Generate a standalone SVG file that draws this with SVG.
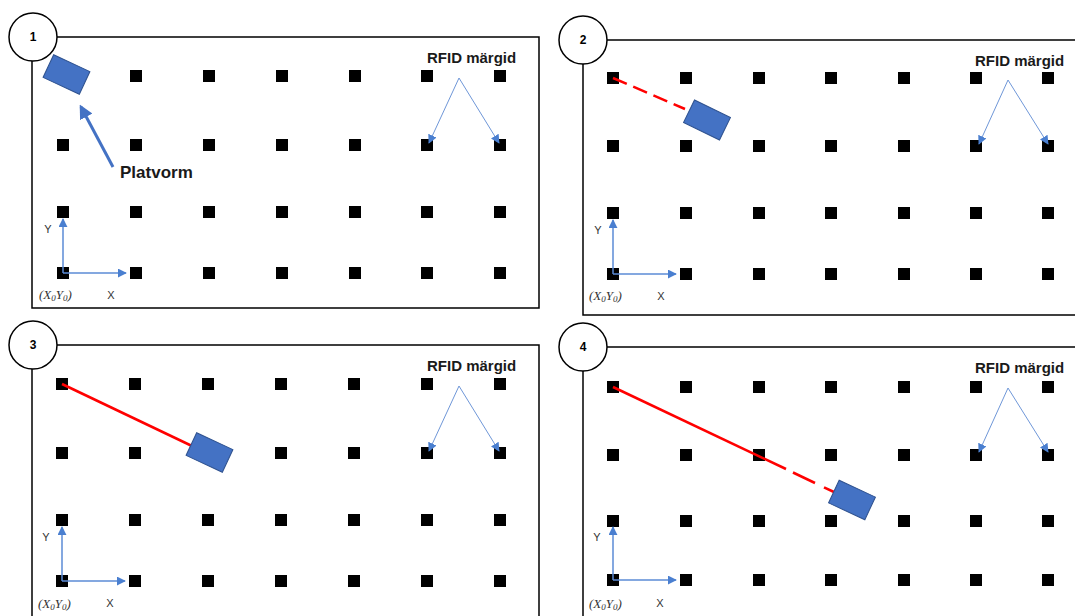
<svg xmlns="http://www.w3.org/2000/svg" width="1075" height="616" viewBox="0 0 1075 616">
<defs>
<style>
.frame{fill:none;stroke:#000;stroke-width:1.5}
.badge{fill:#fff;stroke:#000;stroke-width:1.5}
.num{font-family:"Liberation Sans",Arial,sans-serif;font-weight:bold;font-size:12px;fill:#000;text-anchor:middle}
.lbl{font-family:"Liberation Sans",Arial,sans-serif;font-weight:bold;font-size:15px;fill:#1a1a1a}
.ax{font-family:"Liberation Sans",Arial,sans-serif;font-size:11px;fill:#333;text-anchor:middle}
.org{font-family:"Liberation Serif","Times New Roman",serif;font-style:italic;font-size:13px;fill:#333}
.dot{fill:#000}
.plat{fill:#4472C4;stroke:#2F528F;stroke-width:1}
.axis{stroke:#5B8BD6;stroke-width:1.5;fill:none}
.rf{stroke:#6F97D8;stroke-width:1;fill:none}
.pl{stroke:#4472C4;stroke-width:3;fill:none}
.red{stroke:#FF0000;stroke-width:2.5;fill:none}
.dash{stroke-dasharray:15 7}
</style>
<marker id="ah" viewBox="0 0 10 10" refX="9" refY="5" markerWidth="9" markerHeight="9" markerUnits="userSpaceOnUse" orient="auto"><path d="M0,0 L10,5 L0,10 z" fill="#4A7FD0"/></marker>
<marker id="ahs" viewBox="0 0 10 10" refX="9" refY="5" markerWidth="9" markerHeight="9" markerUnits="userSpaceOnUse" orient="auto"><path d="M0,0 L10,5 L0,10 z" fill="#4A7FD0"/></marker>
<marker id="ahp" viewBox="0 0 10 10" refX="8" refY="5" markerWidth="14" markerHeight="14" markerUnits="userSpaceOnUse" orient="auto"><path d="M0,0 L10,5 L0,10 z" fill="#4472C4"/></marker>
<rect id="sq" x="-6" y="-6" width="12" height="12"/>
<rect id="pf" x="-20" y="-12.5" width="40" height="25"/>
</defs>
<rect width="1075" height="616" fill="#fff"/>

<!-- Panel 1 -->
<g id="panel1">
<path class="frame" d="M57,37 H539 V308 H32 V61"/>
<g id="dots1" class="dot">
<use href="#sq" x="63" y="76"/><use href="#sq" x="136" y="76"/><use href="#sq" x="209" y="76"/><use href="#sq" x="282" y="76"/><use href="#sq" x="355" y="76"/><use href="#sq" x="427" y="76"/><use href="#sq" x="500" y="76"/>
<use href="#sq" x="63" y="145"/><use href="#sq" x="136" y="145"/><use href="#sq" x="209" y="145"/><use href="#sq" x="282" y="145"/><use href="#sq" x="355" y="145"/><use href="#sq" x="427" y="145"/><use href="#sq" x="500" y="145"/>
<use href="#sq" x="63" y="212"/><use href="#sq" x="136" y="212"/><use href="#sq" x="209" y="212"/><use href="#sq" x="282" y="212"/><use href="#sq" x="355" y="212"/><use href="#sq" x="427" y="212"/><use href="#sq" x="500" y="212"/>
<use href="#sq" x="63" y="273"/><use href="#sq" x="136" y="273"/><use href="#sq" x="209" y="273"/><use href="#sq" x="282" y="273"/><use href="#sq" x="355" y="273"/><use href="#sq" x="427" y="273"/><use href="#sq" x="500" y="273"/>
</g>
<g id="badge1"><circle class="badge" cx="33" cy="37" r="24"/><text class="num" x="33" y="41">1</text></g>
<g id="platform1"><use href="#pf" class="plat" transform="translate(66.5,74.5) rotate(25)"/></g>
<g id="label-platvorm"><text class="lbl" x="120" y="178" style="font-size:17px">Platvorm</text></g>
<g id="label-rfid1"><text class="lbl" x="427" y="63">RFID märgid</text></g>
<g id="axes1">
<text class="ax" x="48" y="233">Y</text><text class="ax" x="111" y="299">X</text>
<text class="org" x="39" y="299">(<tspan>X</tspan><tspan font-size="9" dy="2">0</tspan><tspan dy="-2">Y</tspan><tspan font-size="9" dy="2">0</tspan><tspan dy="-2">)</tspan></text>
</g>
</g>

<!-- Panel 2 -->
<g id="panel2">
<path class="frame" d="M607,40 H1076 M1076,315 H583 V64"/>
<g id="dots2" class="dot">
<use href="#sq" x="613" y="78"/><use href="#sq" x="686" y="78"/><use href="#sq" x="759" y="78"/><use href="#sq" x="831" y="78"/><use href="#sq" x="904" y="78"/><use href="#sq" x="976" y="78"/><use href="#sq" x="1048" y="78"/>
<use href="#sq" x="613" y="146"/><use href="#sq" x="686" y="146"/><use href="#sq" x="759" y="146"/><use href="#sq" x="831" y="146"/><use href="#sq" x="904" y="146"/><use href="#sq" x="976" y="146"/><use href="#sq" x="1048" y="146"/>
<use href="#sq" x="613" y="213"/><use href="#sq" x="686" y="213"/><use href="#sq" x="759" y="213"/><use href="#sq" x="831" y="213"/><use href="#sq" x="904" y="213"/><use href="#sq" x="976" y="213"/><use href="#sq" x="1048" y="213"/>
<use href="#sq" x="613" y="274"/><use href="#sq" x="686" y="274"/><use href="#sq" x="759" y="274"/><use href="#sq" x="831" y="274"/><use href="#sq" x="904" y="274"/><use href="#sq" x="976" y="274"/><use href="#sq" x="1048" y="274"/>
</g>
<g id="badge2"><circle class="badge" cx="583" cy="40" r="24"/><text class="num" x="583" y="44">2</text></g>
<g id="platform2"><use href="#pf" class="plat" transform="translate(707,120) rotate(26)"/></g>
<g id="label-rfid2"><text class="lbl" x="975" y="66">RFID märgid</text></g>
<g id="axes2">
<text class="ax" x="598" y="234">Y</text><text class="ax" x="661" y="300">X</text>
<text class="org" x="589" y="300">(<tspan>X</tspan><tspan font-size="9" dy="2">0</tspan><tspan dy="-2">Y</tspan><tspan font-size="9" dy="2">0</tspan><tspan dy="-2">)</tspan></text>
</g>
</g>

<!-- Panel 3 -->
<g id="panel3">
<path class="frame" d="M57,345 H539 V617 M32,617 V369"/>
<g id="dots3" class="dot">
<use href="#sq" x="62" y="384"/><use href="#sq" x="135" y="384"/><use href="#sq" x="208" y="384"/><use href="#sq" x="281" y="384"/><use href="#sq" x="354" y="384"/><use href="#sq" x="427" y="384"/><use href="#sq" x="500" y="384"/>
<use href="#sq" x="62" y="453"/><use href="#sq" x="135" y="453"/><use href="#sq" x="208" y="453"/><use href="#sq" x="281" y="453"/><use href="#sq" x="354" y="453"/><use href="#sq" x="427" y="453"/><use href="#sq" x="500" y="453"/>
<use href="#sq" x="62" y="520"/><use href="#sq" x="135" y="520"/><use href="#sq" x="208" y="520"/><use href="#sq" x="281" y="520"/><use href="#sq" x="354" y="520"/><use href="#sq" x="427" y="520"/><use href="#sq" x="500" y="520"/>
<use href="#sq" x="62" y="581"/><use href="#sq" x="135" y="581"/><use href="#sq" x="208" y="581"/><use href="#sq" x="281" y="581"/><use href="#sq" x="354" y="581"/><use href="#sq" x="427" y="581"/><use href="#sq" x="500" y="581"/>
</g>
<g id="badge3"><circle class="badge" cx="33" cy="345" r="24"/><text class="num" x="33" y="349">3</text></g>
<g id="label-rfid3"><text class="lbl" x="427" y="371">RFID märgid</text></g>
<g id="axes3">
<text class="ax" x="46" y="541">Y</text><text class="ax" x="110" y="607">X</text>
<text class="org" x="38" y="608">(<tspan>X</tspan><tspan font-size="9" dy="2">0</tspan><tspan dy="-2">Y</tspan><tspan font-size="9" dy="2">0</tspan><tspan dy="-2">)</tspan></text>
</g>
</g>

<!-- Panel 4 -->
<g id="panel4">
<path class="frame" d="M607,347 H1076 M583,617 V371"/>
<g id="dots4" class="dot">
<use href="#sq" x="613" y="387"/><use href="#sq" x="686" y="387"/><use href="#sq" x="759" y="387"/><use href="#sq" x="831" y="387"/><use href="#sq" x="904" y="387"/><use href="#sq" x="976" y="387"/><use href="#sq" x="1048" y="387"/>
<use href="#sq" x="613" y="455"/><use href="#sq" x="686" y="455"/><use href="#sq" x="759" y="455"/><use href="#sq" x="831" y="455"/><use href="#sq" x="904" y="455"/><use href="#sq" x="976" y="455"/><use href="#sq" x="1048" y="455"/>
<use href="#sq" x="613" y="521"/><use href="#sq" x="686" y="521"/><use href="#sq" x="759" y="521"/><use href="#sq" x="831" y="521"/><use href="#sq" x="904" y="521"/><use href="#sq" x="976" y="521"/><use href="#sq" x="1048" y="521"/>
<use href="#sq" x="613" y="580"/><use href="#sq" x="686" y="580"/><use href="#sq" x="759" y="580"/><use href="#sq" x="831" y="580"/><use href="#sq" x="904" y="580"/><use href="#sq" x="976" y="580"/><use href="#sq" x="1048" y="580"/>
</g>
<g id="badge4"><circle class="badge" cx="583" cy="347" r="24"/><text class="num" x="583" y="351">4</text></g>
<g id="label-rfid4"><text class="lbl" x="975" y="373">RFID märgid</text></g>
<g id="axes4">
<text class="ax" x="597" y="541">Y</text><text class="ax" x="660" y="607">X</text>
<text class="org" x="589" y="608">(<tspan>X</tspan><tspan font-size="9" dy="2">0</tspan><tspan dy="-2">Y</tspan><tspan font-size="9" dy="2">0</tspan><tspan dy="-2">)</tspan></text>
</g>
</g>

<!-- Connectors -->
<g id="connectors">
<line class="pl" x1="113" y1="167" x2="81" y2="107" marker-end="url(#ahp)"/>
<path class="axis" d="M63,273 V219" marker-end="url(#ah)"/>
<path class="axis" d="M63,273 H126" marker-end="url(#ah)"/>
<path class="rf" d="M459,78 L429,143" marker-end="url(#ahs)"/>
<path class="rf" d="M459,78 L499,143" marker-end="url(#ahs)"/>

<line class="red dash" x1="613" y1="78" x2="685" y2="109"/>
<path class="axis" d="M613,274 V220" marker-end="url(#ah)"/>
<path class="axis" d="M613,274 H676" marker-end="url(#ah)"/>
<path class="rf" d="M1008,80 L979,144" marker-end="url(#ahs)"/>
<path class="rf" d="M1008,80 L1048,144" marker-end="url(#ahs)"/>

<line class="red" x1="62" y1="384" x2="192" y2="446"/>
<path class="axis" d="M62,581 V527" marker-end="url(#ah)"/>
<path class="axis" d="M62,581 H125" marker-end="url(#ah)"/>
<path class="rf" d="M459,386 L429,451" marker-end="url(#ahs)"/>
<path class="rf" d="M459,386 L499,451" marker-end="url(#ahs)"/>

<line class="red" x1="613" y1="387" x2="786" y2="469"/>
<line class="red" x1="793" y1="472.5" x2="815" y2="483"/>
<line class="red" x1="824" y1="487.3" x2="834" y2="492"/>
<path class="axis" d="M613,580 V527" marker-end="url(#ah)"/>
<path class="axis" d="M613,580 H676" marker-end="url(#ah)"/>
<path class="rf" d="M1008,388 L979,452" marker-end="url(#ahs)"/>
<path class="rf" d="M1008,388 L1048,452" marker-end="url(#ahs)"/>
</g>

<g id="platform3"><use href="#pf" class="plat" transform="translate(209.5,452.5) rotate(25)"/></g>
<g id="platform4"><use href="#pf" class="plat" transform="translate(852,500) rotate(25)"/></g>
</svg>
